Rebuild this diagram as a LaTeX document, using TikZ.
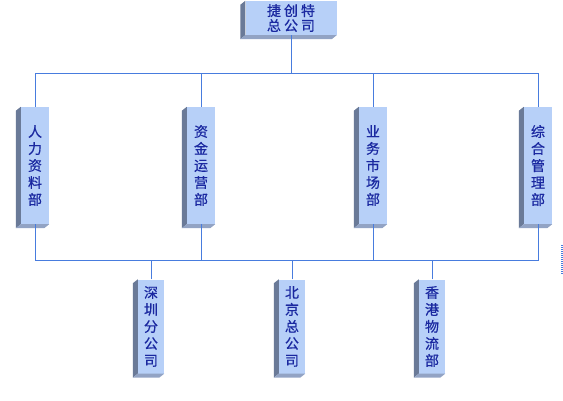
\documentclass[tikz,border=0pt]{standalone}
\usepackage{fontspec}
\newfontfamily\cjk[FakeBold=0.6]{Noto Sans CJK SC}
\definecolor{face}{RGB}{183,208,248}
\definecolor{sidedark}{RGB}{106,122,152}
\definecolor{sidelow}{RGB}{146,163,196}
\definecolor{linkblue}{RGB}{72,124,222}
\definecolor{inkblue}{RGB}{26,40,160}
\tikzset{
  box/.style={fill=face, inner sep=0pt, align=center, text=inkblue,
    font=\cjk\fontsize{14}{17}\selectfont},
  deptbox/.style={box, minimum width=28, minimum height=117},
  subbox/.style={box, minimum width=26, minimum height=94},
  link/.style={draw=linkblue, line width=1pt},
}
\begin{document}
\begin{tikzpicture}[x=1pt, y=-1pt]
  \useasboundingbox (0,0) rectangle (563,400);
  \node[box, minimum width=91, minimum height=34,
        font=\cjk\fontsize{14}{15}\selectfont] (hq) at (291,18)
        {捷\hspace{3pt}创\hspace{3pt}特\\总\hspace{3pt}公\hspace{3pt}司};
  \node[deptbox] (hr) at (35,165.5) {人\\力\\资\\料\\部};
  \node[deptbox] (fund) at (201,165.5) {资\\金\\运\\营\\部};
  \node[deptbox] (biz) at (373,165.5) {业\\务\\市\\场\\部};
  \node[deptbox] (admin) at (538,165.5) {综\\合\\管\\理\\部};
  \node[subbox] (sz) at (151,326.5) {深\\圳\\分\\公\\司};
  \node[subbox] (bj) at (292,326.5) {北\\京\\总\\公\\司};
  \node[subbox] (hk) at (432,326.5) {香\\港\\物\\流\\部};
  % bevel on the left and under each box
  \foreach \n in {hq,hr,fund,biz,admin,sz,bj,hk} {
    \fill[sidedark] (\n.north west) -- ++(-5,4)
      -- ([shift={(-5,4)}]\n.south west) -- (\n.south west) -- cycle;
    \fill[sidelow] (\n.south west) -- (\n.south east)
      -- ++(-5,4) -- ([shift={(-5,4)}]\n.south west) -- cycle;
  }
  \coordinate (busup) at (291,73);
  \coordinate (buslow) at (292,260);
  \draw[link] (hq) -- (busup);
  \foreach \n in {hr,fund,biz,admin} {
    \draw[link] (\n) |- (busup);
    \draw[link] (\n) |- (buslow);
  }
  \foreach \n in {sz,bj,hk}
    \draw[link] (\n) |- (buslow);
  \draw[link, line width=1.5pt, dash pattern=on 1pt off 1pt] (562,245) -- (562,274);
\end{tikzpicture}
\end{document}
